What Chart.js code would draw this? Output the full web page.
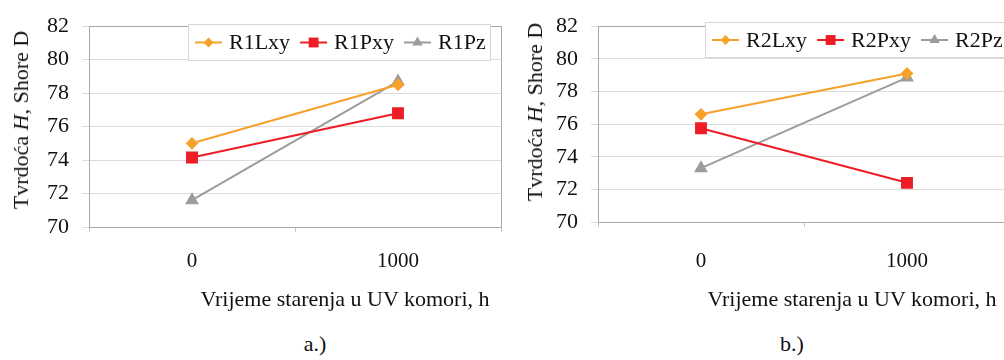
<!DOCTYPE html>
<html>
<head>
<meta charset="utf-8">
<script src="https://cdn.jsdelivr.net/npm/chart.js@4/dist/chart.umd.min.js"></script>
<style>
  html, body { margin: 0; padding: 0; background: #fff; width: 1004px; height: 360px; overflow: hidden; }
  body { position: relative; font-family: 'Liberation Serif', 'Times New Roman', serif; color: #111; }
  canvas { position: absolute; }
  .t { position: absolute; white-space: nowrap; font-size: 22px; transform: translate(-50%, -50%); line-height: 1; }
  .rot { transform: translate(-50%, -50%) rotate(-90deg); }
</style>
</head>
<body>
<canvas id="c1" width="515" height="290" style="left:0;top:0"></canvas>
<canvas id="c2" width="520" height="290" style="left:500px;top:0"></canvas>
<div class="t rot" style="left:21px;top:120px">Tvrdoća <i>H</i>, Shore D</div>
<div class="t rot" style="left:535px;top:112px">Tvrdoća <i>H</i>, Shore D</div>
<div class="t" style="left:345px;top:299px">Vrijeme starenja u UV komori, h</div>
<div class="t" style="left:852px;top:299px">Vrijeme starenja u UV komori, h</div>
<div class="t" style="left:315px;top:344px">a.)</div>
<div class="t" style="left:792px;top:344px">b.)</div>
<script>
// ---- data ----
const categories = ['0', '1000'];
const yTicks = [70, 72, 74, 76, 78, 80, 82];
const seriesNamesA = ['R1Lxy', 'R1Pxy', 'R1Pz'];
const R1Lxy = [75.0, 78.5];
const R1Pxy = [74.15, 76.8];
const R1Pz  = [71.6, 78.7];
const seriesNamesB = ['R2Lxy', 'R2Pxy', 'R2Pz'];
const R2Lxy = [76.6, 79.1];
const R2Pxy = [75.75, 72.4];
const R2Pz  = [73.3, 78.85];

// ---- styles ----
const ORANGE = '#F7A12B', RED = '#EE1D25', GRAY = '#9C9C9C';
const FONT = "'Liberation Serif', 'Times New Roman', serif";

function ds(label, data, color, style, r) {
  return { label, data, borderColor: color, backgroundColor: color, borderWidth: 2,
           pointStyle: style, pointRadius: r, pointHoverRadius: r, tension: 0 };
}

function drawMarker(ctx, style, x, y, r, color) {
  ctx.save();
  ctx.fillStyle = color;
  ctx.beginPath();
  if (style === 'rectRot') {
    ctx.moveTo(x - r, y); ctx.lineTo(x, y - r); ctx.lineTo(x + r, y); ctx.lineTo(x, y + r);
  } else if (style === 'rect') {
    const s = Math.SQRT1_2 * r; ctx.rect(x - s, y - s, 2 * s, 2 * s);
  } else if (style === 'triangle') {
    ctx.moveTo(x, y - r);
    ctx.lineTo(x + r * Math.sin(Math.PI / 3), y + r * 0.5);
    ctx.lineTo(x - r * Math.sin(Math.PI / 3), y + r * 0.5);
  }
  ctx.closePath(); ctx.fill();
  ctx.restore();
}

const boxLegend = {
  id: 'boxLegend',
  afterDraw(chart, args, o) {
    const ctx = chart.ctx;
    ctx.save();
    ctx.fillStyle = '#fff';
    ctx.fillRect(o.x, o.y, o.w, o.h);
    ctx.strokeStyle = '#d6d6d6'; ctx.lineWidth = 1;
    ctx.strokeRect(o.x + 0.5, o.y + 0.5, o.w, o.h);
    ctx.font = '22px ' + FONT;
    ctx.textBaseline = 'middle';
    let x = o.x + 7;
    const cy = o.y + o.h / 2 + 0.5;
    chart.data.datasets.forEach(d => {
      ctx.strokeStyle = d.borderColor; ctx.lineWidth = 2;
      ctx.beginPath(); ctx.moveTo(x, cy); ctx.lineTo(x + 27, cy); ctx.stroke();
      drawMarker(ctx, d.pointStyle, x + 13.5, cy, d.pointRadius, d.borderColor);
      x += 34;
      ctx.fillStyle = '#111';
      ctx.fillText(d.label, x, cy + 1);
      x += ctx.measureText(d.label).width + 10;
    });
    ctx.restore();
  }
};

const plotBorder = {
  id: 'plotBorder',
  beforeDatasetsDraw(chart) {
    const a = chart.chartArea, ctx = chart.ctx;
    ctx.save();
    ctx.strokeStyle = '#a8a8a8'; ctx.lineWidth = 1;
    ctx.strokeRect(Math.round(a.left) + 0.5, Math.round(a.top) + 0.5,
                   Math.round(a.right - a.left), Math.round(a.bottom - a.top));
    ctx.restore();
  }
};

function makeChart(id, names, series, yW, padTop, padRight, xH, tickPad, legendBox) {
  const styles = [['rectRot', 5, ORANGE], ['rect', 7, RED], ['triangle', 6, GRAY]];
  return new Chart(document.getElementById(id), {
    type: 'line',
    data: {
      labels: categories,
      datasets: series.map((s, i) => ds(names[i], s, styles[i][2], styles[i][0], styles[i][1]))
    },
    options: {
      responsive: false, animation: false, devicePixelRatio: 1,
      layout: { padding: { top: padTop, right: padRight, left: 0, bottom: 0 } },
      plugins: { legend: { display: false }, tooltip: { enabled: false }, boxLegend: legendBox },
      scales: {
        x: {
          type: 'category', offset: true,
          grid: { offset: true, drawOnChartArea: false, color: '#c8c8c8', tickLength: 5 },
          border: { display: true, color: '#a8a8a8' },
          ticks: { color: '#111', font: { family: FONT, size: 21 }, padding: tickPad, maxRotation: 0 },
          afterFit(s) { s.height = xH; }
        },
        y: {
          min: 70, max: 82,
          afterBuildTicks(s) { s.ticks = yTicks.map(v => ({ value: v })); },
          grid: { color: '#dcdcdc', tickLength: 7 },
          border: { display: true, color: '#a8a8a8' },
          ticks: { color: '#111', font: { family: FONT, size: 22 }, padding: 13 },
          afterFit(s) { s.width = yW; }
        }
      }
    },
    plugins: [plotBorder, boxLegend]
  });
}

makeChart('c1', seriesNamesA, [R1Lxy, R1Pxy, R1Pz], 89, 22, 14, 63, 17,
          { x: 188, y: 24, w: 302, h: 36 });
makeChart('c2', seriesNamesB, [R2Lxy, R2Pxy, R2Pz], 98, 18, 10, 68, 22,
          { x: 205, y: 22, w: 320, h: 35 });
</script>
</body>
</html>
